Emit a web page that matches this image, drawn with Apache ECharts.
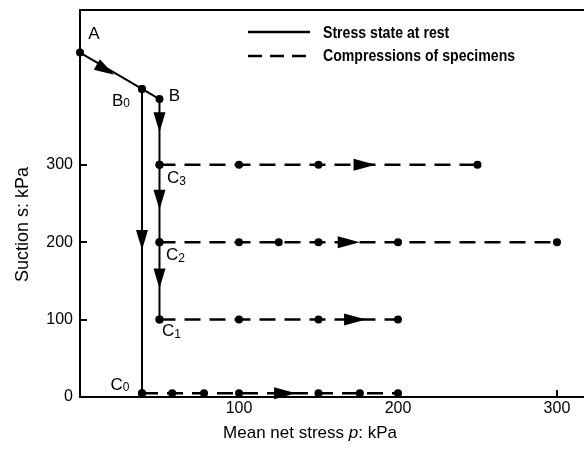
<!DOCTYPE html>
<html><head><meta charset="utf-8">
<script src="https://cdn.jsdelivr.net/npm/echarts@6/dist/echarts.min.js"></script>
<style>html,body{margin:0;padding:0;background:#fff}#c{width:584px;height:453px}</style>
</head><body><div id="c"></div>
<script>
// Stress path (solid): A -> B0 -> B -> C3 -> C2 -> C1
const pathNames = ['A', 'B0', 'B', 'C3', 'C2', 'C1'];
const pathP = [0, 39, 50, 50, 50, 50];
const pathS = [445, 398, 385, 300, 200, 100];
// Drop B0 -> C0 (solid)
const dropNames = ['', 'C0'];
const dropP = [39, 39];
const dropS = [398, 5];
// Compressions (dashed), one per suction level
const compS = [300, 200, 100, 5];
const comp300P = [50, 100, 150, 250];
const comp200P = [50, 100, 125, 150, 200, 300];
const comp100P = [50, 100, 150, 200];
const comp5P = [39, 58, 78, 100, 150, 176, 200];
// Direction arrows
const arrowDownP = [50, 50, 50, 39];
const arrowDownS = [355, 255, 153, 203];
const arrowRightP = [179, 169, 173, 129];
const arrowRightS = [300, 200, 100, 5];
const arrowSlopeP = [16];
const arrowSlopeS = [423];
// Ticks
const xTickLabels = [100, 200, 300];
const yTickLabels = [0, 100, 200, 300];
const yTickMarks = [100, 200, 300];

const FONT = 'Liberation Sans, Arial, sans-serif';
const labelOffsets = {
  A: [14, -18], B0: [-21, 12], B: [15, -3], C3: [17, 14], C2: [16, 13], C1: [12, 12], C0: [-22, -8]
};
const rich = {
  m: {fontSize: 17, fontFamily: FONT, color: '#000', lineHeight: 18},
  s: {fontSize: 12, fontFamily: FONT, color: '#000', lineHeight: 12, verticalAlign: 'bottom', padding: [10, 0, 0, 0]}
};
function fmtName(n) {
  if (!n) return '';
  if (n.length === 1) return '{m|' + n + '}';
  return '{m|' + n[0] + '}{s|' + n.slice(1) + '}';
}
function pointData(ps, ss, names) {
  return ps.map((p, i) => {
    const n = names ? names[i] : '';
    const item = {value: [p, ss[i]], name: n};
    if (n) {
      item.label = {show: true, position: 'inside', offset: labelOffsets[n], formatter: fmtName(n), rich: rich};
    }
    return item;
  });
}
const ARROW = 'path://M0,0 L12,0 L6,20 Z';
const black = '#000';

const series = [];
series.push({type: 'line', data: pointData(pathP, pathS, pathNames), symbol: 'circle', symbolSize: 8,
  itemStyle: {color: black}, lineStyle: {color: black, width: 2}, z: 3, animation: false});
series.push({type: 'line', data: pointData(dropP, dropS, dropNames), symbol: 'circle', symbolSize: 8,
  itemStyle: {color: black}, lineStyle: {color: black, width: 2}, z: 3, animation: false});
[comp300P, comp200P, comp100P, comp5P].forEach((ps, k) => {
  series.push({type: 'line', data: ps.map(p => [p, compS[k]]), symbol: 'circle', symbolSize: 8,
    itemStyle: {color: black}, lineStyle: {color: black, width: 2.5, type: [16, 9]}, z: 2, animation: false});
});
series.push({type: 'scatter', data: arrowDownP.map((p, i) => [p, arrowDownS[i]]), symbol: ARROW, symbolSize: [12, 20],
  itemStyle: {color: black, opacity: 1}, z: 5, animation: false});
series.push({type: 'scatter', data: arrowRightP.map((p, i) => [p, arrowRightS[i]]), symbol: ARROW, symbolSize: [12, 22],
  symbolRotate: 90, itemStyle: {color: black, opacity: 1}, z: 5, animation: false});
series.push({type: 'scatter', data: arrowSlopeP.map((p, i) => [p, arrowSlopeS[i]]), symbol: ARROW, symbolSize: [12, 20],
  symbolRotate: 59.6, itemStyle: {color: black, opacity: 1}, z: 5, animation: false});

const chart = echarts.init(document.getElementById('c'), null, {renderer: 'canvas'});
const LEG_FONT = 'bold 17px "Liberation Sans", Arial, sans-serif';
chart.setOption({
  backgroundColor: '#fff',
  animation: false,
  grid: {left: 80, top: 10, right: 0, bottom: 56, containLabel: false},
  xAxis: [{
    type: 'value', min: 0, max: 317, position: 'bottom',
    axisLine: {lineStyle: {color: black, width: 2}},
    axisTick: {inside: true, length: 7, lineStyle: {color: black, width: 2}, customValues: xTickLabels},
    axisLabel: {color: black, fontSize: 16, fontFamily: FONT, margin: 4, customValues: xTickLabels},
    splitLine: {show: false},
    name: '{n|Mean net stress }{i|p}{n|: kPa}', nameLocation: 'middle', nameGap: 28,
    nameTextStyle: {padding: [0, 44, 0, 0], rich: {
      n: {fontSize: 17, fontFamily: FONT, color: black},
      i: {fontSize: 17, fontFamily: FONT, color: black, fontStyle: 'italic'}}}
  }, {
    type: 'value', min: 0, max: 317, position: 'top',
    axisLine: {lineStyle: {color: black, width: 2}}, axisTick: {show: false}, axisLabel: {show: false},
    splitLine: {show: false}
  }],
  yAxis: {
    type: 'value', min: 0, max: 500,
    axisLine: {show: true, lineStyle: {color: black, width: 2}},
    axisTick: {show: true, inside: true, length: 7, lineStyle: {color: black, width: 2}, customValues: yTickMarks},
    axisLabel: {color: black, fontSize: 16, fontFamily: FONT, margin: 7, customValues: yTickLabels},
    splitLine: {show: false},
    name: 'Suction s: kPa', nameLocation: 'middle', nameGap: 48,
    nameTextStyle: {fontSize: 18, fontFamily: FONT, color: black, padding: [0, 42, 0, 0]}
  },
  graphic: [
    {type: 'line', shape: {x1: 248, y1: 32, x2: 310, y2: 32}, style: {stroke: black, lineWidth: 2.5}},
    {type: 'line', shape: {x1: 248, y1: 56, x2: 310, y2: 56}, style: {stroke: black, lineWidth: 2.5, lineDash: [14, 8]}},
    {type: 'text', x: 323, y: 33, scaleX: 0.83, style: {text: 'Stress state at rest', fill: black,
      font: LEG_FONT, verticalAlign: 'middle'}},
    {type: 'text', x: 323, y: 56, scaleX: 0.83, style: {text: 'Compressions of specimens', fill: black,
      font: LEG_FONT, verticalAlign: 'middle'}}
  ],
  series: series
});
</script>
</body></html>
